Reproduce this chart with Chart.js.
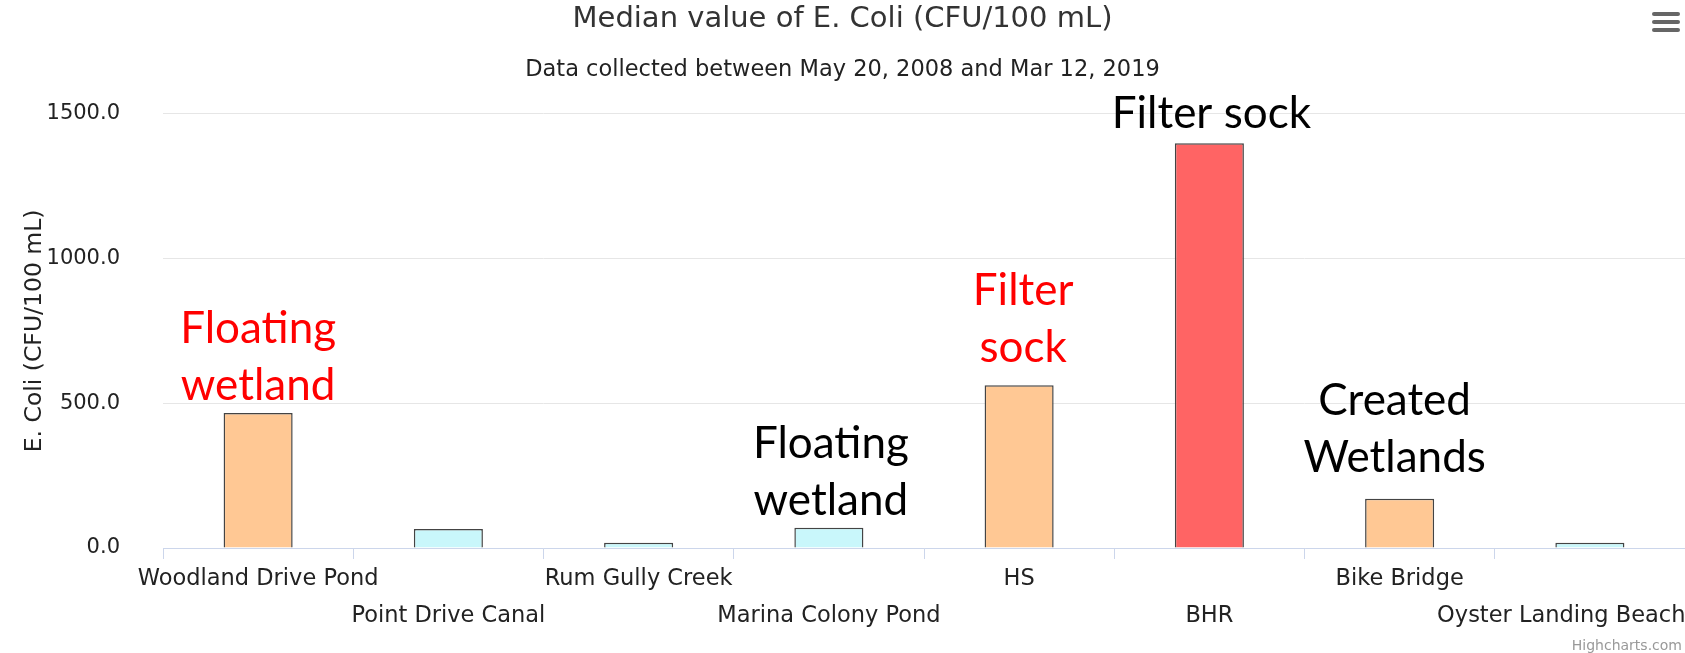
<!DOCTYPE html>
<html>
<head>
<meta charset="utf-8">
<script src="https://cdn.jsdelivr.net/npm/chart.js@4/dist/chart.umd.min.js"></script>
<style>
  html, body { margin: 0; padding: 0; background: #fff; overflow: hidden; }
  #wrap { position: relative; width: 1685px; height: 653px; }
  #menu { position: absolute; left: 1652px; top: 12px; width: 28px; }
  #menu div { height: 4px; border-radius: 2px; background: #666; margin-bottom: 4px; }
  #credit { position: absolute; right: 3px; bottom: 0px; font: 14px "DejaVu Sans", sans-serif; color: #999; }
</style>
</head>
<body>
<div id="wrap">
  <canvas id="ecoliChart" width="1685" height="653"></canvas>
  <div id="menu"><div></div><div></div><div></div></div>
  <div id="credit">Highcharts.com</div>
</div>
<script>
// Sites and median E. coli values (CFU/100 mL)
const sites = ['Woodland Drive Pond', 'Point Drive Canal', 'Rum Gully Creek', 'Marina Colony Pond',
    'HS', 'BHR', 'Bike Bridge', 'Oyster Landing Beach'];
const medianValues = [466, 66, 18, 70, 562, 1398, 170, 18];
const barColors = ['#ffc894', '#c9f7fb', '#c9f7fb', '#c9f7fb', '#ffc894', '#ff6464', '#ffc894', '#c9f7fb'];
const yTicks = [0, 500, 1000, 1500];

// Text notes added on top of the chart
const noteLines = [['Floating', 'wetland'], ['Floating', 'wetland'], ['Filter', 'sock'], ['Filter sock'], ['Created', 'Wetlands']];
const noteSite = [0, 3, 4, 5, 6];
const noteValue = [757, 360, 890, 1500, 510];
const noteColor = ['#ff0000', '#000000', '#ff0000', '#000000', '#000000'];
const noteShift = [0, 2, 4, 2, -5];

const notesPlugin = {
    id: 'notes',
    afterDatasetsDraw(chart) {
        const ctx = chart.ctx;
        const x = chart.scales.x;
        const y = chart.scales.y;
        ctx.save();
        ctx.font = '44px Lato, sans-serif';
        ctx.textAlign = 'center';
        ctx.textBaseline = 'middle';
        noteLines.forEach((lines, i) => {
            const cx = x.getPixelForValue(noteSite[i]) + noteShift[i];
            const cy = y.getPixelForValue(noteValue[i]);
            ctx.fillStyle = noteColor[i];
            lines.forEach((line, j) => ctx.fillText(line, cx, cy + j * 57));
        });
        ctx.restore();
    }
};

new Chart(document.getElementById('ecoliChart'), {
    type: 'bar',
    data: {
        labels: sites,
        datasets: [{
            label: 'Median',
            data: medianValues,
            backgroundColor: barColors,
            borderColor: '#444444',
            borderWidth: 1.5,
            barPercentage: 0.363,
            categoryPercentage: 1
        }]
    },
    options: {
        responsive: false,
        animation: false,
        layout: { padding: { left: 0, right: 0, top: 0, bottom: 16 } },
        plugins: {
            legend: { display: false },
            tooltip: { enabled: false },
            title: {
                display: true,
                text: 'Median value of E. Coli (CFU/100 mL)',
                color: '#333333',
                font: { family: 'DejaVu Sans', size: 29, weight: 'normal' },
                padding: { top: 2, bottom: 20 }
            },
            subtitle: {
                display: true,
                text: 'Data collected between May 20, 2008 and Mar 12, 2019',
                color: '#222222',
                font: { family: 'DejaVu Sans', size: 22.5 },
                padding: { top: 0, bottom: 30 }
            }
        },
        scales: {
            x: {
                grid: { drawOnChartArea: false, drawTicks: true, tickLength: 11, color: '#ccd6eb', offset: true },
                border: { color: '#ccd6eb' },
                ticks: {
                    autoSkip: false,
                    maxRotation: 0,
                    minRotation: 0,
                    padding: 2,
                    color: '#222222',
                    font: { family: 'DejaVu Sans', size: 22.5, lineHeight: 1.644 },
                    callback: function (value, index) {
                        let label = this.getLabelForValue(value);
                        // push the last label left so it stays on the page
                        if (index === sites.length - 1) label = label + '\u00a0'.repeat(8);
                        return index % 2 === 0 ? [label] : ['', label];
                    }
                },
                afterFit: (scale) => { scale.paddingRight = 0; }
            },
            y: {
                min: 0,
                max: 1500,
                afterBuildTicks: (scale) => { scale.ticks = yTicks.map(v => ({ value: v })); },
                grid: { color: '#e6e6e6', drawTicks: false },
                border: { display: false },
                ticks: {
                    padding: 43,
                    color: '#222222',
                    font: { family: 'DejaVu Sans', size: 21 },
                    callback: (v) => Number(v).toFixed(1)
                },
                title: {
                    display: true,
                    text: 'E. Coli (CFU/100 mL)',
                    color: '#222222',
                    font: { family: 'DejaVu Sans', size: 23.5 },
                    padding: { top: 21, bottom: 0 }
                },
                afterFit: (scale) => { scale.width = 163; }
            }
        }
    },
    plugins: [notesPlugin]
});
</script>
</body>
</html>
